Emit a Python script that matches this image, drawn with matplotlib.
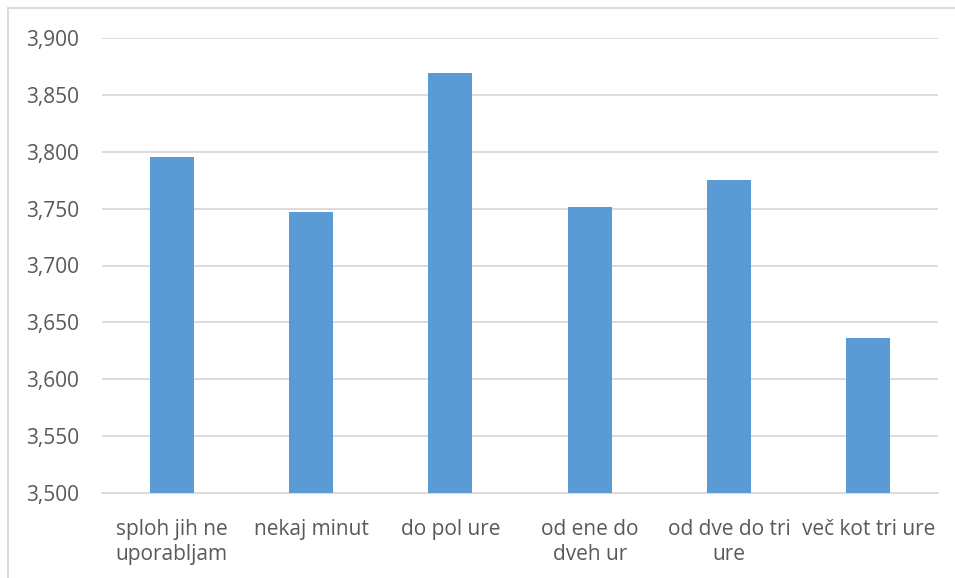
import matplotlib.pyplot as plt
from matplotlib.lines import Line2D
from matplotlib.ticker import FuncFormatter, MultipleLocator

categories = [
    "sploh jih ne\nuporabljam",
    "nekaj minut",
    "do pol ure",
    "od ene do\ndveh ur",
    "od dve do tri\nure",
    "več kot tri ure",
]
values = [3.795, 3.747, 3.869, 3.751, 3.775, 3.636]

bar_color = "#5B9BD5"
text_color = "#595959"
grid_color = "#D9D9D9"

plt.rcParams['font.family'] = ['Open Sans', 'DejaVu Sans']

fig = plt.figure(figsize=(9.55, 5.78), dpi=100)
ax = fig.add_axes([102 / 955, 1 - 493 / 578, 836 / 955, 455 / 578])

x = range(len(categories))
ax.bar(x, values, width=0.316, color=bar_color, zorder=3)

ax.set_xlim(-0.5, len(categories) - 0.5)
ax.set_ylim(3.5, 3.9)
ax.yaxis.set_major_locator(MultipleLocator(0.05))
ax.yaxis.set_major_formatter(FuncFormatter(lambda v, p: f"{v:.3f}".replace(".", ",")))

ax.set_xticks(list(x))
ax.set_xticklabels(categories, linespacing=1.24)

ax.grid(axis='y', color=grid_color, linewidth=1.3, zorder=0)
for side in ['top', 'right', 'left']:
    ax.spines[side].set_visible(False)
ax.spines['bottom'].set_color(grid_color)
ax.spines['bottom'].set_linewidth(1.3)

ax.tick_params(axis='both', length=0, labelsize=15, colors=text_color)
ax.tick_params(axis='y', pad=16.5)
ax.tick_params(axis='x', pad=18.5)

# chart frame (only top and left edges show)
fig.add_artist(Line2D([8 / 955, 1.0], [1 - 8 / 578, 1 - 8 / 578], color=grid_color,
                      linewidth=1.3, transform=fig.transFigure))
fig.add_artist(Line2D([8 / 955, 8 / 955], [0.0, 1 - 8 / 578], color=grid_color,
                      linewidth=1.3, transform=fig.transFigure))

fig.savefig("out.png", dpi=100)
